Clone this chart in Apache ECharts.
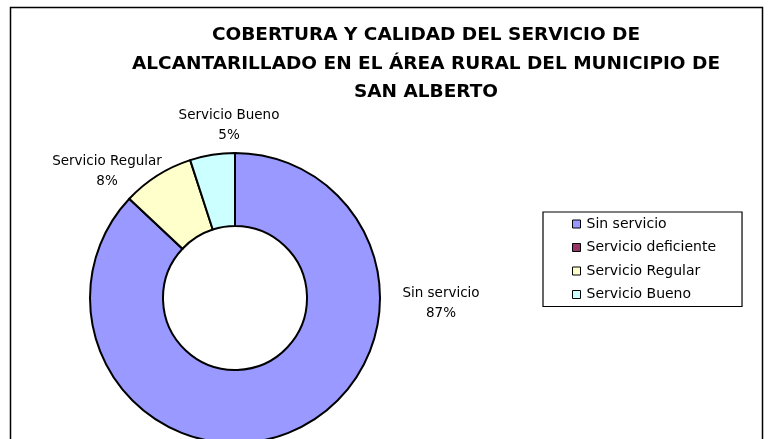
<!DOCTYPE html>
<html>
<head>
<meta charset="utf-8">
<script src="https://cdn.jsdelivr.net/npm/echarts@6/dist/echarts.min.js"></script>
<style>
  html, body { margin: 0; padding: 0; background: #fff; }
  #chart { width: 772px; height: 439px; }
</style>
</head>
<body>
<div id="chart"></div>
<script>
var categories = ["Sin servicio", "Servicio deficiente", "Servicio Regular", "Servicio Bueno"];
var values = [87, 0, 8, 5];
var colors = ["#9999FF", "#993366", "#FFFFCC", "#CCFFFF"];
var titleText = "COBERTURA Y CALIDAD DEL SERVICIO DE\nALCANTARILLADO EN EL ÁREA RURAL DEL MUNICIPIO DE\nSAN ALBERTO";

// label spots, Excel style (no leader lines)
var labelSpots = [[441, 303], null, [107, 171], [229, 125]];

var chart = echarts.init(document.getElementById("chart"));
var option = {
  backgroundColor: "#fff",
  animation: false,
  graphic: [{
    type: "rect",
    shape: { x: 10.5, y: 7.5, width: 752, height: 440 },
    style: { fill: "none", stroke: "#000", lineWidth: 1.5 },
    silent: true
  }],
  title: {
    text: titleText,
    left: 421,
    textAlign: "center",
    top: 15.5,
    padding: 5,
    textStyle: {
      fontFamily: "DejaVu Sans",
      fontWeight: "bold",
      fontSize: 18.5,
      lineHeight: 28.8,
      color: "#000"
    }
  },
  legend: {
    orient: "vertical",
    left: 543,
    top: 212,
    data: categories,
    icon: "rect",
    itemWidth: 8,
    itemHeight: 8,
    itemGap: 9.5,
    padding: [5, 26, 5, 29],
    borderColor: "#000",
    borderWidth: 1.2,
    itemStyle: { borderColor: "#000", borderWidth: 1 },
    textStyle: {
      fontFamily: "DejaVu Sans",
      fontSize: 14,
      lineHeight: 14,
      color: "#000",
      padding: [0, 0, 0, 1]
    }
  },
  series: [{
    type: "pie",
    center: [235, 298],
    radius: [72, 145],
    startAngle: 90,
    clockwise: true,
    data: categories.map(function (name, i) {
      return {
        name: name,
        value: values[i],
        itemStyle: { color: colors[i] },
        label: { show: values[i] > 0 }
      };
    }),
    itemStyle: { borderColor: "#000", borderWidth: 2 },
    label: {
      position: "outside",
      formatter: function (p) { return p.name + "\n" + p.value + "%"; },
      fontFamily: "DejaVu Sans",
      fontSize: 13.5,
      lineHeight: 20,
      color: "#000",
      align: "center",
      overflow: "none",
      width: 200
    },
    labelLine: { show: false },
    labelLayout: function (params) {
      var s = labelSpots[params.dataIndex];
      if (!s) return {};
      return { x: s[0], y: s[1], align: "center", verticalAlign: "middle" };
    },
    emphasis: { disabled: true }
  }]
};
chart.setOption(option);
</script>
</body>
</html>
